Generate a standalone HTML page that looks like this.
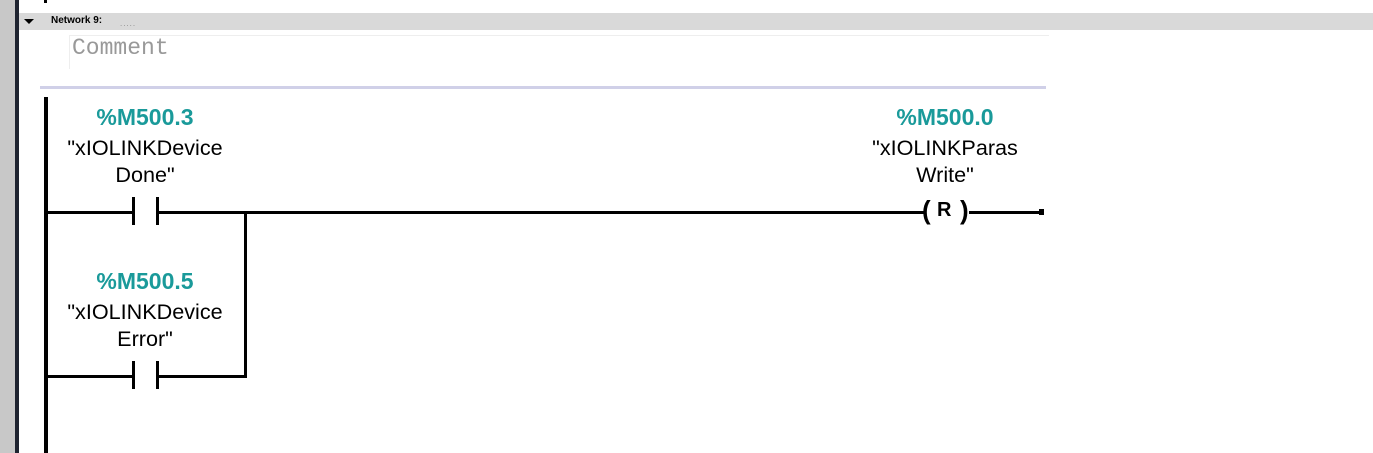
<!DOCTYPE html>
<html><head><meta charset="utf-8"><style>
body{margin:0;width:1373px;height:453px;position:relative;background:#fff;overflow:hidden;font-family:"Liberation Sans",sans-serif}
div{position:absolute}
.k{background:#000}
.t{color:#1a9a9a;font-weight:bold;font-size:23px;text-align:center;width:240px}
.n{color:#000;font-size:21.6px;text-align:center;width:240px;line-height:27px}
</style></head><body>
<div style="left:0;top:0;width:15px;height:453px;background:#c8c8c8"></div>
<div style="left:15px;top:0;width:4px;height:453px;background:#1e2330"></div>
<div class="k" style="left:44px;top:0;width:3px;height:3px"></div>
<div style="left:19px;top:13px;width:1354px;height:17px;background:#d9d9d9"></div>
<div style="left:24px;top:19px;width:0;height:0;border-left:5px solid transparent;border-right:5px solid transparent;border-top:5px solid #000"></div>
<div style="left:51px;top:15px;font-size:10px;font-weight:bold;color:#000">Network 9:</div>
<div style="left:120px;top:19px;font-size:8px;color:#888;letter-spacing:1px">.....</div>
<div style="left:69px;top:35px;width:979px;height:33px;border-top:1px solid #eee;border-left:1px solid #eee"></div>
<div style="left:72px;top:35px;font-family:'Liberation Mono',monospace;font-size:23px;color:#999">Comment</div>
<div style="left:40px;top:86px;width:1006px;height:3px;background:#d0d0e8"></div>
<div class="k" style="left:44px;top:97px;width:4px;height:356px"></div>
<div class="k" style="left:48px;top:211px;width:84px;height:3px"></div>
<div class="k" style="left:132px;top:197px;width:3px;height:28px"></div>
<div class="k" style="left:156px;top:197px;width:3px;height:28px"></div>
<div class="k" style="left:159px;top:211px;width:766px;height:3px"></div>
<div class="k" style="left:244px;top:211px;width:3px;height:167px"></div>
<div class="k" style="left:48px;top:375px;width:84px;height:3px"></div>
<div class="k" style="left:132px;top:361px;width:3px;height:28px"></div>
<div class="k" style="left:156px;top:361px;width:3px;height:28px"></div>
<div class="k" style="left:159px;top:375px;width:88px;height:3px"></div>
<div style="left:922px;top:195px;font-size:26px;font-weight:bold">(</div>
<div style="left:937px;top:199px;font-size:20px;font-weight:bold">R</div>
<div style="left:960px;top:195px;font-size:26px;font-weight:bold">)</div>
<div class="k" style="left:969px;top:211px;width:71px;height:3px"></div>
<div class="k" style="left:1039px;top:209px;width:5px;height:6px"></div>
<div class="t" style="left:25px;top:104px">%M500.3</div>
<div class="n" style="left:25px;top:134px">"xIOLINKDevice<br>Done"</div>
<div class="t" style="left:25px;top:268px">%M500.5</div>
<div class="n" style="left:25px;top:298px">"xIOLINKDevice<br>Error"</div>
<div class="t" style="left:825px;top:104px">%M500.0</div>
<div class="n" style="left:825px;top:134px">"xIOLINKParas<br>Write"</div>
</body></html>
